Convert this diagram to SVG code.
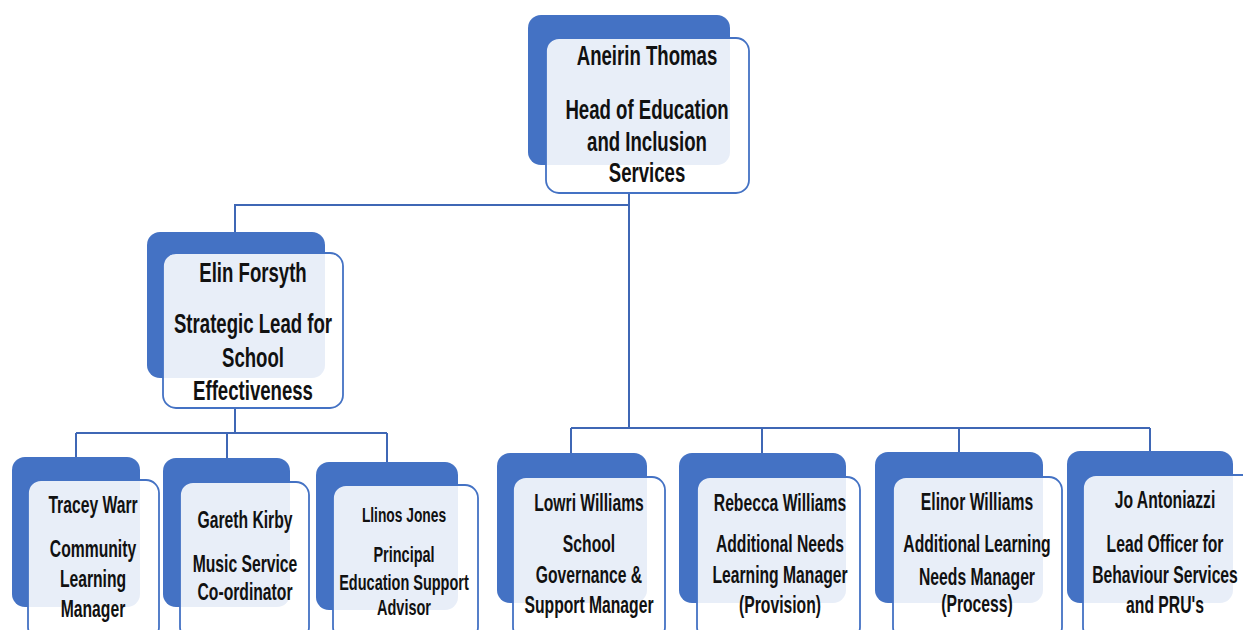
<svg xmlns="http://www.w3.org/2000/svg" width="1243" height="630" viewBox="0 0 1243 630">
<style>
.back{fill:#4472C4;}
.front{fill:#ffffff;fill-opacity:0.88;stroke:#4472C4;stroke-width:1.8;}
.conn{fill:none;stroke:#3F67B5;stroke-width:2;}
text{font-family:"Liberation Sans",Arial,sans-serif;font-weight:bold;text-anchor:middle;fill:#111111;}
.t1{font-size:18.6px;}
.t2{font-size:15.7px;}
.t3{font-size:14.5px;}
.t4{font-size:13.8px;}
</style>
<rect width="1243" height="630" fill="#ffffff"/>
<g id="connectors">
<path class="conn" d="M629,193 V428"/>
<path class="conn" d="M629,205 H235 V232"/>
<path class="conn" d="M235,408 V433"/>
<path class="conn" d="M76,433 H387"/>
<path class="conn" d="M76,433 V457"/>
<path class="conn" d="M227,433 V458"/>
<path class="conn" d="M387,433 V462"/>
<path class="conn" d="M571,428 H1150"/>
<path class="conn" d="M571,428 V453"/>
<path class="conn" d="M762,428 V453"/>
<path class="conn" d="M959,428 V452"/>
<path class="conn" d="M1150,428 V451"/>
</g>
<g id="node-aneirin">
<rect class="back" x="528" y="15" width="202" height="150" rx="13"/>
<rect class="front" x="546" y="38" width="203" height="155" rx="13"/>
<text class="t1" transform="matrix(1 0 0 1.48 647 65)">Aneirin Thomas</text>
<text class="t1" transform="matrix(1 0 0 1.48 647 119)">Head of Education</text>
<text class="t1" transform="matrix(1 0 0 1.48 647 151)">and Inclusion</text>
<text class="t1" transform="matrix(1 0 0 1.48 647 182)">Services</text>
</g>
<g id="node-elin">
<rect class="back" x="147" y="232" width="178" height="146" rx="13"/>
<rect class="front" x="163" y="253" width="180" height="155" rx="13"/>
<text class="t1" transform="matrix(1 0 0 1.48 253 282)">Elin Forsyth</text>
<text class="t1" transform="matrix(1 0 0 1.48 253 333)">Strategic Lead for</text>
<text class="t1" transform="matrix(1 0 0 1.48 253 367)">School</text>
<text class="t1" transform="matrix(1 0 0 1.48 253 400)">Effectiveness</text>
</g>
<g id="node-tracey">
<rect class="back" x="12" y="457" width="128" height="150" rx="13"/>
<rect class="front" x="28" y="480" width="131" height="160" rx="13"/>
<text class="t2" transform="matrix(1 0 0 1.48 93 513)">Tracey Warr</text>
<text class="t2" transform="matrix(1 0 0 1.48 93 557)">Community</text>
<text class="t2" transform="matrix(1 0 0 1.48 93 587)">Learning</text>
<text class="t2" transform="matrix(1 0 0 1.48 93 617)">Manager</text>
</g>
<g id="node-gareth">
<rect class="back" x="163" y="458" width="127" height="149" rx="13"/>
<rect class="front" x="180" y="482" width="129" height="158" rx="13"/>
<text class="t2" transform="matrix(1 0 0 1.48 245 528)">Gareth Kirby</text>
<text class="t2" transform="matrix(1 0 0 1.48 245 572)">Music Service</text>
<text class="t2" transform="matrix(1 0 0 1.48 245 600)">Co-ordinator</text>
</g>
<g id="node-llinos">
<rect class="back" x="316" y="462" width="142" height="148" rx="13"/>
<rect class="front" x="333" y="485" width="145" height="155" rx="13"/>
<text class="t4" transform="matrix(1 0 0 1.48 404 522)">Llinos Jones</text>
<text class="t3" transform="matrix(1 0 0 1.48 404 562)">Principal</text>
<text class="t3" transform="matrix(1 0 0 1.48 404 590)">Education Support</text>
<text class="t3" transform="matrix(1 0 0 1.48 404 615)">Advisor</text>
</g>
<g id="node-lowri">
<rect class="back" x="497" y="453" width="150" height="150" rx="13"/>
<rect class="front" x="513" y="477" width="152" height="163" rx="13"/>
<text class="t2" transform="matrix(1 0 0 1.48 589 511)">Lowri Williams</text>
<text class="t2" transform="matrix(1 0 0 1.48 589 552)">School</text>
<text class="t2" transform="matrix(1 0 0 1.48 589 583)">Governance &amp;</text>
<text class="t2" transform="matrix(1 0 0 1.48 589 613)">Support Manager</text>
</g>
<g id="node-rebecca">
<rect class="back" x="679" y="453" width="167" height="150" rx="13"/>
<rect class="front" x="697" y="477" width="163" height="163" rx="13"/>
<text class="t2" transform="matrix(1 0 0 1.48 780 511)">Rebecca Williams</text>
<text class="t2" transform="matrix(1 0 0 1.48 780 552)">Additional Needs</text>
<text class="t2" transform="matrix(1 0 0 1.48 780 583)">Learning Manager</text>
<text class="t2" transform="matrix(1 0 0 1.48 780 613)">(Provision)</text>
</g>
<g id="node-elinor">
<rect class="back" x="875" y="452" width="168" height="151" rx="13"/>
<rect class="front" x="893" y="477" width="169" height="163" rx="13"/>
<text class="t2" transform="matrix(1 0 0 1.48 977 510)">Elinor Williams</text>
<text class="t2" transform="matrix(1 0 0 1.48 977 552)">Additional Learning</text>
<text class="t2" transform="matrix(1 0 0 1.48 977 585)">Needs Manager</text>
<text class="t2" transform="matrix(1 0 0 1.48 977 612)">(Process)</text>
</g>
<g id="node-jo">
<rect class="back" x="1067" y="451" width="166" height="152" rx="13"/>
<rect class="front" x="1083" y="475" width="175" height="165" rx="13"/>
<text class="t2" transform="matrix(1 0 0 1.48 1165 508)">Jo Antoniazzi</text>
<text class="t2" transform="matrix(1 0 0 1.48 1165 552)">Lead Officer for</text>
<text class="t2" transform="matrix(1 0 0 1.48 1165 583)">Behaviour Services</text>
<text class="t2" transform="matrix(1 0 0 1.48 1165 613)">and PRU's</text>
</g>
</svg>
